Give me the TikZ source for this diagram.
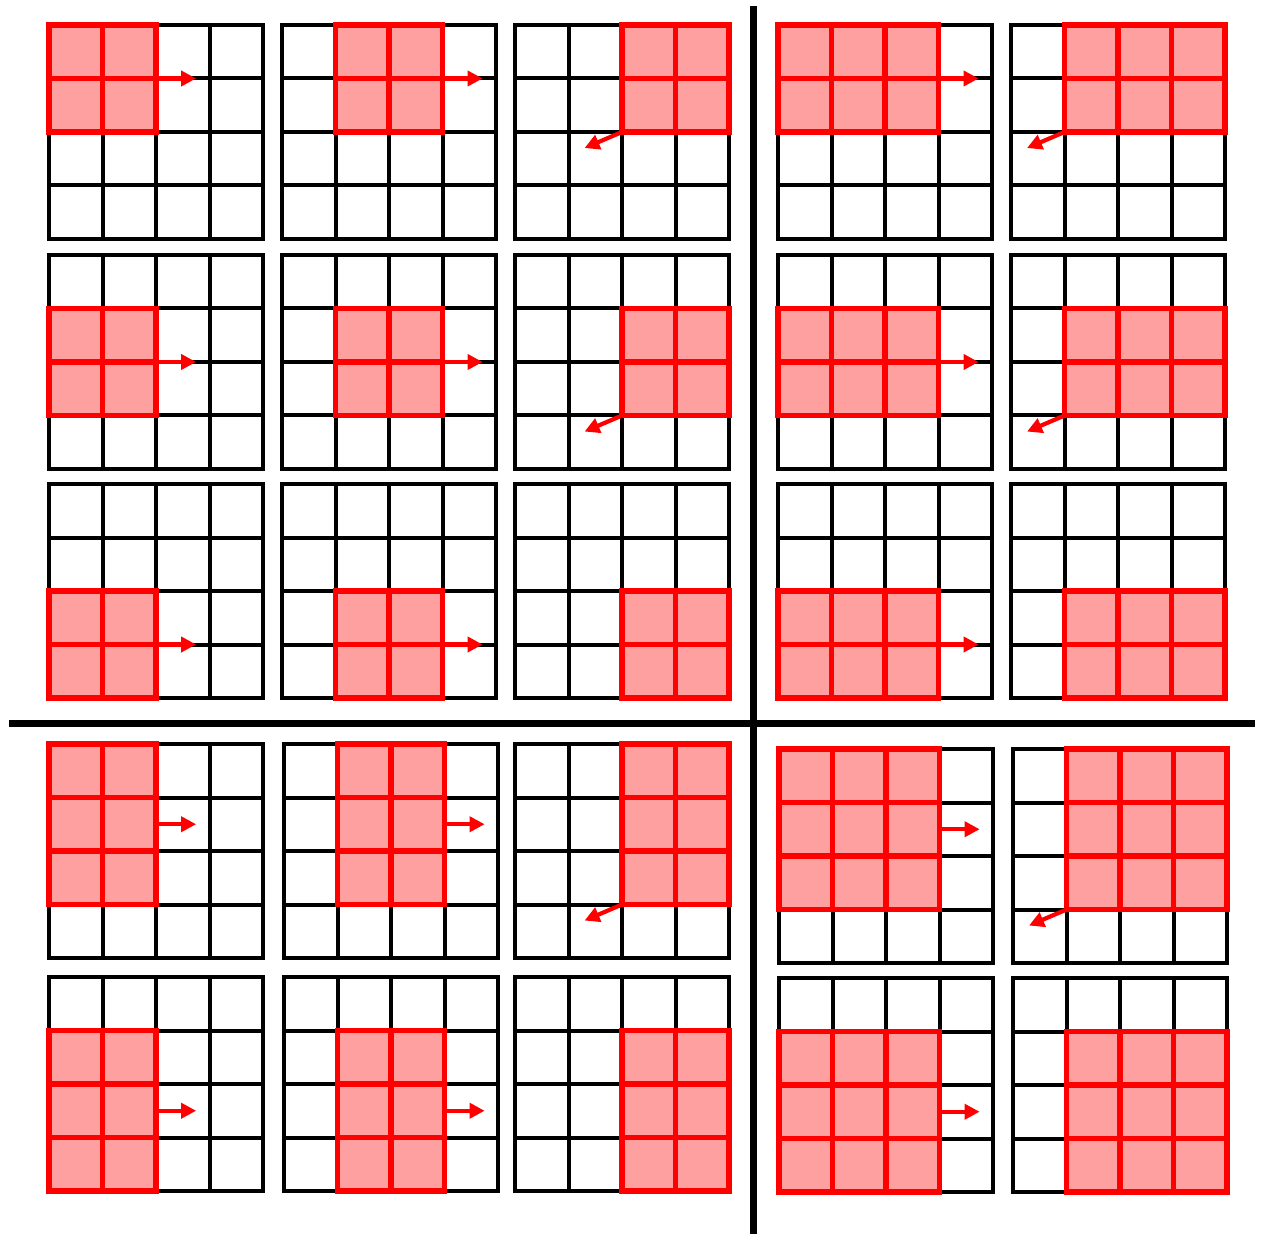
\documentclass[tikz,border=0pt]{standalone}
\usetikzlibrary{arrows.meta}
\definecolor{kernelpink}{RGB}{255,160,160}
\tikzset{
  cellgrid/.style={line width=2pt, black},
  kernelbox/.style={line width=2.7pt, red, fill=kernelpink},
  kernelline/.style={line width=2.7pt, red},
  slide/.style={line width=2.1pt, red, -{Triangle[length=7.5pt,width=7.5pt]}},
  divider/.style={line width=3.5pt, black}
}
% one 4x4 input with the kernel at column #5, row #6; #7: 0 none, 1 right, 2 down-left
\newcommand{\slidegrid}[7]{%
  \begin{scope}[shift={(#1,#2)}, x=26.75pt, y=-26.75pt]
    \draw[cellgrid] (0,0) rectangle (4,4);
    \foreach \k in {1,2,3} {
      \draw[cellgrid] (\k,0) -- (\k,4);
      \draw[cellgrid] (0,\k) -- (4,\k);
    }
    \draw[kernelbox] (#5,#6) rectangle ++(#3,#4);
    \pgfmathtruncatemacro\kwm{#3-1}
    \pgfmathtruncatemacro\khm{#4-1}
    \foreach \a in {1,...,\kwm} \draw[kernelline] (#5+\a,#6) -- ++(0,#4);
    \foreach \b in {1,...,\khm} \draw[kernelline] (#5,#6+\b) -- ++(#3,0);
    \ifcase#7\relax
    \or \draw[slide] (#5+#3,#6+#4/2) -- ++(0.75,0);
    \or \draw[slide] (#5,#6+#4) -- ++(-0.7,0.3);
    \fi
  \end{scope}}
% all kernel positions of one quadrant
\newcommand{\slidequad}[4]{%
  \pgfmathtruncatemacro\ilast{4-#3}
  \pgfmathtruncatemacro\jlast{4-#4}
  \foreach \X [count=\i from 0] in {#1} {
    \foreach \Y [count=\j from 0] in {#2} {
      \pgfmathtruncatemacro\arr{\i<\ilast ? 1 : (\j<\jlast ? 2 : 0)}
      \slidegrid{\X}{\Y}{#3}{#4}{\i}{\j}{\arr}
    }
  }}
\begin{document}
\begin{tikzpicture}[x=0.5pt, y=-0.5pt]
    \useasboundingbox (0,0) rectangle (1265,1241);
    \slidequad{49,282,515}{25,255,484}{2}{2}
    \slidequad{778,1011}{25,255,484}{3}{2}
    \slidequad{49,284,515}{744,977}{2}{3}
    \slidequad{779,1013}{749,978}{3}{3}
    \draw[divider] (753.5,6) -- (753.5,1234);
    \draw[divider] (9,723.5) -- (1255,723.5);
\end{tikzpicture}
\end{document}
